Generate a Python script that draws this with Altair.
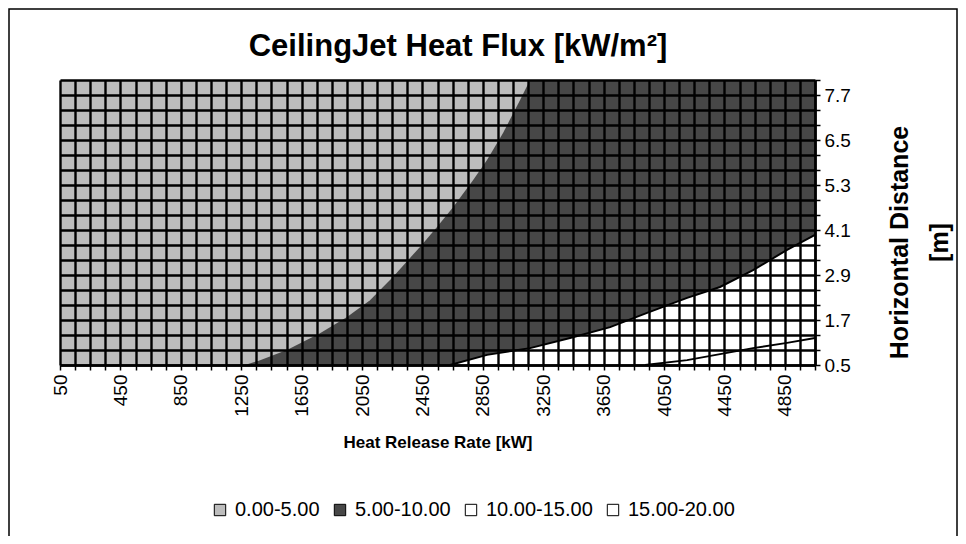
import altair as alt
import pandas as pd

# ---- category grid (Excel surface-chart categories / series) ----
hrr_grid = list(range(50, 5051, 100))
dist_grid = [0.5, 0.9, 1.3, 1.7, 2.1, 2.5, 2.9, 3.3, 3.7, 4.1, 4.5, 4.9, 5.3,
             5.7, 6.1, 6.5, 6.9, 7.3, 7.7, 8.1]
x_labels = [50, 450, 850, 1250, 1650, 2050, 2450, 2850, 3250, 3650, 4050, 4450, 4850]
y_labels = [0.5, 1.7, 2.9, 4.1, 5.3, 6.5, 7.7]

# ---- contour bands ----
bands = ["0.00-5.00", "5.00-10.00", "10.00-15.00", "15.00-20.00"]
band_colors = ["#bdbdbd", "#474747", "#ffffff", "#ffffff"]

# ---- contour boundaries ----
c5_hrr = [1275, 1375, 1553, 1772, 1951, 2103, 2255, 2434, 2547, 2653, 2785, 2878, 2984, 3097, 3163]
c5_dist = [0.5, 0.63, 0.90, 1.35, 1.78, 2.23, 2.85, 3.65, 4.18, 4.71, 5.43, 5.97, 6.69, 7.57, 8.1]
c10_hrr = [2633, 2878, 3163, 3428, 3693, 3938, 4203, 4421, 4640, 4865, 5050]
c10_dist = [0.5, 0.77, 0.95, 1.22, 1.51, 1.89, 2.29, 2.58, 3.03, 3.57, 3.97]
c15_hrr = [3925, 4203, 4421, 4640, 4865, 5050]
c15_dist = [0.5, 0.63, 0.79, 0.95, 1.09, 1.22]

TITLE = "CeilingJet Heat Flux [kW/m²]"
FONT = "Liberation Sans"
X0, X1 = hrr_grid[0], hrr_grid[-1]
Y0, Y1 = dist_grid[0], dist_grid[-1]

# region tables
bg = pd.DataFrame({"hrr": [X0, X1], "lo": [Y0, Y0], "hi": [Y1, Y1], "band": bands[1]})
r05 = pd.DataFrame({"hrr": [X0] + c5_hrr, "lo": [Y0] + c5_dist, "hi": Y1, "band": bands[0]})
r1015 = pd.DataFrame({"hrr": c10_hrr, "lo": Y0, "hi": c10_dist, "band": bands[2]})
r1520 = pd.DataFrame({"hrr": c15_hrr, "lo": Y0, "hi": c15_dist, "band": bands[3]})
l10 = pd.DataFrame({"hrr": c10_hrr, "lo": c10_dist})
l15 = pd.DataFrame({"hrr": c15_hrr, "lo": c15_dist})

x_axis = alt.Axis(
    values=hrr_grid, tickCount=500, format="d",
    labelExpr=f"indexof({x_labels}, datum.value) >= 0 ? datum.label : ''",
    grid=True, gridColor="black", gridWidth=2.4, gridOpacity=1,
    domain=True, domainColor="black", domainWidth=2.4,
    ticks=True, tickColor="black", tickWidth=1.5, tickSize=5,
    labelAngle=-90, labelAlign="right", labelBaseline="middle",
    labelFont=FONT, labelFontSize=19, labelColor="black", labelPadding=4,
    labelOverlap=False, labelFlush=False,
    title="Heat Release Rate [kW]", titleFont=FONT, titleFontSize=17,
    titleFontWeight="bold", titleColor="black", titleY=77, titleBaseline="middle",
    zindex=1,
)
y_axis = alt.Axis(
    orient="right", values=dist_grid, tickCount=500, format=".1f",
    labelExpr=f"indexof({y_labels}, datum.value) >= 0 ? datum.label : ''",
    grid=True, gridColor="black", gridWidth=2.4, gridOpacity=1,
    domain=True, domainColor="black", domainWidth=2.4,
    ticks=True, tickColor="black", tickWidth=1.5, tickSize=5,
    labelFont=FONT, labelFontSize=19, labelColor="black", labelPadding=4,
    labelAlign="left", labelBaseline="middle",
    labelOverlap=False, labelFlush=False,
    title=["Horizontal Distance", "[m]"], titleFont=FONT, titleFontSize=25,
    titleFontWeight="bold", titleColor="black", titleAngle=-90,
    titleX=84, titleY=162, titleAlign="center", titleBaseline="middle",
    titleLineHeight=40,
    zindex=1,
)

xs = alt.Scale(domain=[X0, X1], nice=False, zero=False)
ys = alt.Scale(domain=[Y0, Y1], nice=False, zero=False)
color = alt.Color(
    "band:N",
    scale=alt.Scale(domain=bands, range=band_colors),
    legend=alt.Legend(
        orient="none", legendX=150, legendY=420, direction="horizontal", columns=4,
        title=None, symbolType="square", symbolSize=130, symbolStrokeColor="black",
        symbolStrokeWidth=1, labelFont=FONT, labelFontSize=20, labelColor="black",
        columnPadding=10, labelOffset=5, padding=0,
    ),
)


def region(df):
    return alt.Chart(df).mark_area(opacity=1, line=False).encode(
        x=alt.X("hrr:Q", scale=xs, axis=x_axis),
        y=alt.Y("lo:Q", scale=ys, axis=y_axis),
        y2="hi:Q",
        color=color,
    )


def boundary(df):
    return alt.Chart(df).mark_line(color="black", strokeWidth=2).encode(
        x=alt.X("hrr:Q", scale=xs), y=alt.Y("lo:Q", scale=ys)
    )


one = pd.DataFrame({"t": [TITLE]})
frame = alt.Chart(one).mark_rect(
    fillOpacity=0, stroke="black", strokeWidth=1.5, clip=False
).encode(x=alt.value(-51), x2=alt.value(897), y=alt.value(-71), y2=alt.value(458))

title = alt.Chart(one).mark_text(
    font=FONT, fontSize=31, fontWeight="bold", color="black",
    align="center", baseline="alphabetic", clip=False,
).encode(text="t:N", x=alt.value(398), y=alt.value(-24))

chart = alt.layer(
    region(bg), region(r05), region(r1015), region(r1520),
    boundary(l10), boundary(l15), frame, title,
).properties(
    width=755, height=285,
    autosize=alt.AutoSizeParams(type="none"),
    padding={"left": 52, "top": 72, "right": 143, "bottom": 171},
).configure_view(stroke="black", strokeWidth=2.4).configure(background="white")

chart.save("out.html", embed_options={"renderer": "svg", "actions": False})
